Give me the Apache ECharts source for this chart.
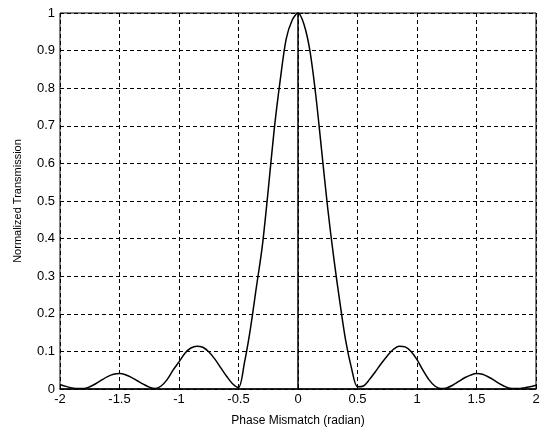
<!DOCTYPE html>
<html>
<head>
<meta charset="utf-8">
<script src="https://cdn.jsdelivr.net/npm/echarts@6/dist/echarts.min.js"></script>
<style>
  html, body { margin: 0; padding: 0; background: #fff; }
  #chart { width: 545px; height: 432px; }
</style>
</head>
<body>
<div id="chart"></div>
<script>
// phase mismatch (radian), step 0.05 from -2 to 2
const phase = []
for (let i = -40; i <= 40; i++) phase.push(+(i * 0.05).toFixed(2))

// values, left half -2 .. 0
const leftHalf = [
  0.012, 0.007, 0.003, 0.001, 0.001, 0.006, 0.014, 0.024, 0.033, 0.039,
  0.041, 0.038, 0.031, 0.022, 0.013, 0.005, 0.001, 0.008, 0.025, 0.05,
  0.072, 0.095, 0.109, 0.114, 0.111, 0.099, 0.08, 0.057, 0.034, 0.014,
  0.004, 0.07, 0.16, 0.27, 0.38, 0.53, 0.69, 0.82, 0.93, 0.98,
  1.0
]
// right half 0.05 .. 2
const rightHalf = [
  0.97, 0.9, 0.78, 0.63, 0.48, 0.35, 0.235, 0.13, 0.055, 0.006,
  0.008, 0.025, 0.046, 0.068, 0.088, 0.105, 0.114, 0.112, 0.1, 0.078,
  0.05, 0.025, 0.008, 0.001, 0.003, 0.01, 0.02, 0.03, 0.037, 0.041,
  0.039, 0.032, 0.023, 0.013, 0.005, 0.001, 0.001, 0.003, 0.006, 0.01
]
const transmission = leftHalf.concat(rightHalf)

const xTicks = [-2, -1.5, -1, -0.5, 0, 0.5, 1, 1.5, 2]
const yTicks = [0, 0.1, 0.2, 0.3, 0.4, 0.5, 0.6, 0.7, 0.8, 0.9, 1]

const chart = echarts.init(document.getElementById('chart'), null, { renderer: 'canvas' })

const font = 'Liberation Sans, Arial, sans-serif'
const gridLine = { show: true, lineStyle: { color: '#000', type: [4, 3], width: 1 } }

chart.setOption({
  animation: false,
  backgroundColor: '#fff',
  grid: {
    left: 60, right: 9, top: 13, bottom: 43,
    show: true, borderColor: '#000', borderWidth: 1
  },
  xAxis: {
    type: 'value',
    min: -2, max: 2, interval: 0.5,
    name: 'Phase Mismatch (radian)',
    nameLocation: 'middle',
    nameGap: 26,
    nameTextStyle: { fontFamily: font, fontSize: 12, color: '#000' },
    axisLine: { show: true, onZero: false, lineStyle: { color: '#000', width: 1.5 } },
    axisTick: { show: true, inside: true, length: 5, lineStyle: { color: '#000' } },
    axisLabel: {
      fontFamily: font, fontSize: 13, color: '#000', margin: 4,
      formatter: v => xTicks.includes(v) ? String(v) : ''
    },
    splitLine: gridLine
  },
  yAxis: {
    type: 'value',
    min: 0, max: 1, interval: 0.1,
    name: 'Normalized Transmission',
    nameLocation: 'middle',
    nameGap: 37,
    nameTextStyle: { fontFamily: font, fontSize: 11, color: '#000' },
    axisLine: { show: true, lineStyle: { color: '#000', width: 1.5 } },
    axisTick: { show: true, inside: true, length: 5, lineStyle: { color: '#000' } },
    axisLabel: {
      fontFamily: font, fontSize: 13, color: '#000', margin: 5,
      formatter: v => {
        const t = yTicks.find(k => Math.abs(k - v) < 1e-6)
        return t === undefined ? '' : String(t)
      }
    },
    splitLine: gridLine
  },
  series: [{
    type: 'line',
    data: phase.map((x, i) => [x, transmission[i]]),
    showSymbol: false,
    smooth: 0.3,
    clip: true,
    lineStyle: { color: '#000', width: 1.5 }
  }]
})
</script>
</body>
</html>
